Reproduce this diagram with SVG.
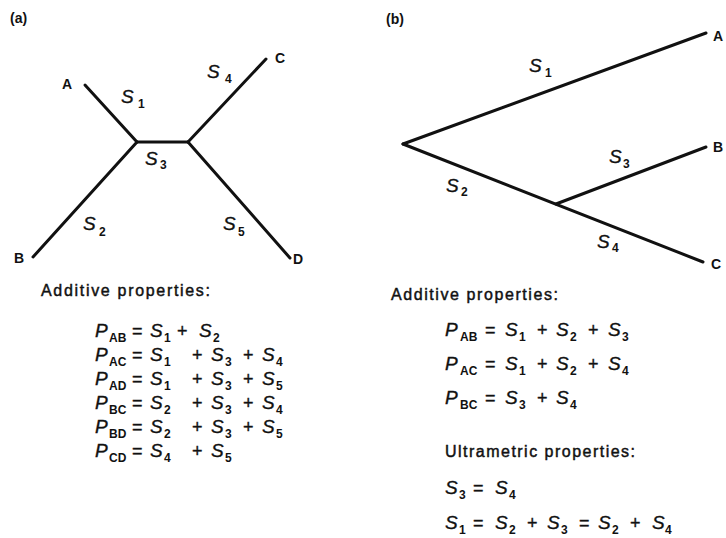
<svg xmlns="http://www.w3.org/2000/svg" width="726" height="538" viewBox="0 0 726 538">
<style>
text{font-family:"Liberation Sans",Arial,sans-serif;fill:#111}
.pl{font-size:14px;font-weight:bold}
.nd{font-size:14px;font-weight:bold}
.s{font-size:19px;font-style:italic;stroke:#111;stroke-width:0.35}
.sb{font-size:12px;font-weight:bold;font-style:normal;stroke:none}
.op{font-size:18px;font-style:normal}
.hd{font-size:16px;stroke:#111;stroke-width:0.45}
.br{stroke:#111;stroke-width:3;fill:none;stroke-linecap:round;stroke-linejoin:round}
</style>
<rect width="726" height="538" fill="#fff"/>
<text class="pl" x="10" y="23">(a)</text>
<text class="pl" x="386" y="24">(b)</text>
<g id="edges">
<line class="br" x1="85" y1="85" x2="137" y2="142"/>
<line class="br" x1="137" y1="142" x2="188" y2="142"/>
<line class="br" x1="266" y1="59" x2="188" y2="142"/>
<line class="br" x1="33" y1="257" x2="137" y2="142"/>
<line class="br" x1="290" y1="258" x2="188" y2="142"/>
<line class="br" x1="403" y1="144" x2="706" y2="33"/>
<line class="br" x1="403" y1="144" x2="703" y2="262"/>
<line class="br" x1="556" y1="204" x2="706" y2="147"/>
</g>
<g id="node-a-A"><text class="nd" x="62" y="89">A</text></g>
<g id="node-a-B"><text class="nd" x="14" y="263">B</text></g>
<g id="node-a-C"><text class="nd" x="275" y="63">C</text></g>
<g id="node-a-D"><text class="nd" x="293" y="264">D</text></g>
<g id="node-b-A"><text class="nd" x="713" y="41">A</text></g>
<g id="node-b-B"><text class="nd" x="713" y="152">B</text></g>
<g id="node-b-C"><text class="nd" x="711" y="269">C</text></g>
<g id="edge-labels">
<text class="s" x="121" y="103">S<tspan class="sb" x="138" y="108">1</tspan></text>
<text class="s" x="207" y="78">S<tspan class="sb" x="225" y="83">4</tspan></text>
<text class="s" x="145" y="165">S<tspan class="sb" x="160" y="169">3</tspan></text>
<text class="s" x="83" y="230">S<tspan class="sb" x="99" y="236">2</tspan></text>
<text class="s" x="223" y="230">S<tspan class="sb" x="238" y="236">5</tspan></text>
<text class="s" x="529" y="72">S<tspan class="sb" x="545" y="77">1</tspan></text>
<text class="s" x="609" y="163">S<tspan class="sb" x="623" y="168">3</tspan></text>
<text class="s" x="446" y="192">S<tspan class="sb" x="461" y="196">2</tspan></text>
<text class="s" x="597" y="248">S<tspan class="sb" x="612" y="252">4</tspan></text>
</g>
<g id="text-a">
<text class="hd" x="41" y="296" textLength="169" lengthAdjust="spacing">Additive properties:</text>
<text class="s" x="95" y="337">P<tspan class="sb" x="109" y="342">AB</tspan><tspan class="op" x="132" y="337">=</tspan><tspan x="150" y="337">S</tspan><tspan class="sb" x="164" y="342">1</tspan><tspan class="op" x="177" y="337">+</tspan><tspan x="199" y="337">S</tspan><tspan class="sb" x="213" y="342">2</tspan></text>
<text class="s" x="95" y="361">P<tspan class="sb" x="109" y="366">AC</tspan><tspan class="op" x="132" y="361">=</tspan><tspan x="150" y="361">S</tspan><tspan class="sb" x="164" y="366">1</tspan><tspan class="op" x="192" y="361">+</tspan><tspan x="211" y="361">S</tspan><tspan class="sb" x="225" y="366">3</tspan><tspan class="op" x="243" y="361">+</tspan><tspan x="262" y="361">S</tspan><tspan class="sb" x="276" y="366">4</tspan></text>
<text class="s" x="95" y="385">P<tspan class="sb" x="109" y="390">AD</tspan><tspan class="op" x="132" y="385">=</tspan><tspan x="150" y="385">S</tspan><tspan class="sb" x="164" y="390">1</tspan><tspan class="op" x="192" y="385">+</tspan><tspan x="211" y="385">S</tspan><tspan class="sb" x="225" y="390">3</tspan><tspan class="op" x="243" y="385">+</tspan><tspan x="262" y="385">S</tspan><tspan class="sb" x="276" y="390">5</tspan></text>
<text class="s" x="95" y="409">P<tspan class="sb" x="109" y="414">BC</tspan><tspan class="op" x="132" y="409">=</tspan><tspan x="150" y="409">S</tspan><tspan class="sb" x="164" y="414">2</tspan><tspan class="op" x="192" y="409">+</tspan><tspan x="211" y="409">S</tspan><tspan class="sb" x="225" y="414">3</tspan><tspan class="op" x="243" y="409">+</tspan><tspan x="262" y="409">S</tspan><tspan class="sb" x="276" y="414">4</tspan></text>
<text class="s" x="95" y="433">P<tspan class="sb" x="109" y="438">BD</tspan><tspan class="op" x="132" y="433">=</tspan><tspan x="150" y="433">S</tspan><tspan class="sb" x="164" y="438">2</tspan><tspan class="op" x="192" y="433">+</tspan><tspan x="211" y="433">S</tspan><tspan class="sb" x="225" y="438">3</tspan><tspan class="op" x="243" y="433">+</tspan><tspan x="262" y="433">S</tspan><tspan class="sb" x="276" y="438">5</tspan></text>
<text class="s" x="95" y="457">P<tspan class="sb" x="109" y="462">CD</tspan><tspan class="op" x="132" y="457">=</tspan><tspan x="150" y="457">S</tspan><tspan class="sb" x="164" y="462">4</tspan><tspan class="op" x="192" y="457">+</tspan><tspan x="211" y="457">S</tspan><tspan class="sb" x="225" y="462">5</tspan></text>
</g>
<g id="text-b">
<text class="hd" x="391" y="300" textLength="167" lengthAdjust="spacing">Additive properties:</text>
<text class="s" x="445" y="336">P<tspan class="sb" x="460" y="341">AB</tspan><tspan class="op" x="485" y="336">=</tspan><tspan x="505" y="336">S</tspan><tspan class="sb" x="519" y="341">1</tspan><tspan class="op" x="537" y="336">+</tspan><tspan x="556" y="336">S</tspan><tspan class="sb" x="570" y="341">2</tspan><tspan class="op" x="588" y="336">+</tspan><tspan x="608" y="336">S</tspan><tspan class="sb" x="622" y="341">3</tspan></text>
<text class="s" x="445" y="370">P<tspan class="sb" x="460" y="375">AC</tspan><tspan class="op" x="485" y="370">=</tspan><tspan x="505" y="370">S</tspan><tspan class="sb" x="519" y="375">1</tspan><tspan class="op" x="537" y="370">+</tspan><tspan x="556" y="370">S</tspan><tspan class="sb" x="570" y="375">2</tspan><tspan class="op" x="588" y="370">+</tspan><tspan x="608" y="370">S</tspan><tspan class="sb" x="622" y="375">4</tspan></text>
<text class="s" x="445" y="404">P<tspan class="sb" x="460" y="409">BC</tspan><tspan class="op" x="485" y="404">=</tspan><tspan x="505" y="404">S</tspan><tspan class="sb" x="519" y="409">3</tspan><tspan class="op" x="537" y="404">+</tspan><tspan x="556" y="404">S</tspan><tspan class="sb" x="570" y="409">4</tspan></text>
<text class="hd" x="445" y="457" textLength="190" lengthAdjust="spacing">Ultrametric properties:</text>
<text class="s" x="445" y="494">S<tspan class="sb" x="459" y="499">3</tspan><tspan class="op" x="473" y="494">=</tspan><tspan x="495" y="494">S</tspan><tspan class="sb" x="509" y="499">4</tspan></text>
<text class="s" x="445" y="529">S<tspan class="sb" x="459" y="534">1</tspan><tspan class="op" x="473" y="529">=</tspan><tspan x="495" y="529">S</tspan><tspan class="sb" x="509" y="534">2</tspan><tspan class="op" x="527" y="529">+</tspan><tspan x="547" y="529">S</tspan><tspan class="sb" x="561" y="534">3</tspan><tspan class="op" x="579" y="529">=</tspan><tspan x="598" y="529">S</tspan><tspan class="sb" x="612" y="534">2</tspan><tspan class="op" x="630" y="529">+</tspan><tspan x="652" y="529">S</tspan><tspan class="sb" x="665" y="534">4</tspan></text>
</g>
</svg>
